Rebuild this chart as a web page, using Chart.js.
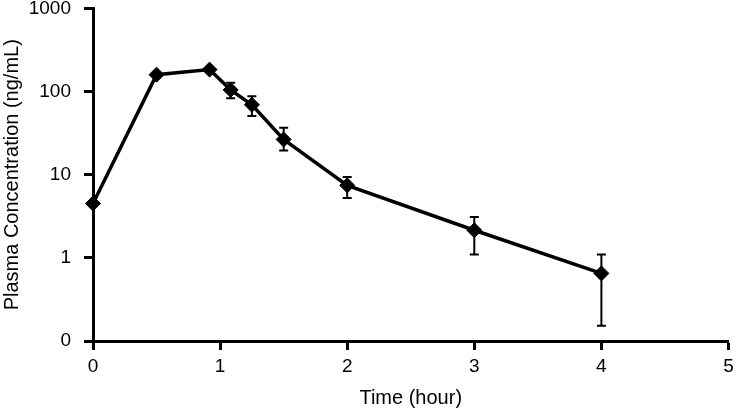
<!DOCTYPE html>
<html>
<head>
<meta charset="utf-8">
<script src="https://cdn.jsdelivr.net/npm/chart.js@4/dist/chart.umd.min.js"></script>
<style>
html,body{margin:0;padding:0;background:#fff;}
#wrap{width:737px;height:413px;}
</style>
</head>
<body>
<div id="wrap"><canvas id="c"></canvas></div>
<script>
const timesHour = [0, 0.5, 0.917, 1.083, 1.25, 1.5, 2, 3, 4];
const concMean = [4.5, 160, 184, 105, 69.5, 26.6, 7.46, 2.15, 0.65];
const concUpper = [4.5, 160, 184, 128, 88, 36.7, 9.4, 3.1, 1.1];
const concLower = [4.5, 160, 184, 83, 51, 19.6, 5.25, 1.1, 0.153];
const yTicks = [0.1, 1, 10, 100, 1000];
const yTickLabels = ['0', '1', '10', '100', '1000'];
const xTicks = [0, 1, 2, 3, 4, 5];

const errorBars = {
  id: 'errorBars',
  afterDatasetsDraw(chart) {
    const ctx = chart.ctx;
    const xs = chart.scales.x, ys = chart.scales.y;
    ctx.save();
    ctx.strokeStyle = '#000';
    ctx.lineWidth = 2;
    for (let i = 0; i < timesHour.length; i++) {
      if (concUpper[i] === concLower[i]) continue;
      const x = xs.getPixelForValue(timesHour[i]);
      const yt = ys.getPixelForValue(concUpper[i]);
      const yb = ys.getPixelForValue(concLower[i]);
      const w = 4.5;
      ctx.beginPath();
      ctx.moveTo(x, yt); ctx.lineTo(x, yb);
      ctx.moveTo(x - w, yt); ctx.lineTo(x + w, yt);
      ctx.moveTo(x - w, yb); ctx.lineTo(x + w, yb);
      ctx.stroke();
    }
    ctx.restore();
  }
};

Chart.defaults.font.family = '"Liberation Sans", Arial, sans-serif';
Chart.defaults.color = '#000';

new Chart(document.getElementById('c'), {
  type: 'line',
  data: {
    datasets: [{
      data: timesHour.map((t, i) => ({x: t, y: concMean[i]})),
      borderColor: '#000',
      backgroundColor: '#000',
      borderWidth: 3.5,
      pointStyle: 'rectRot',
      pointRadius: 7.5,
      pointBorderWidth: 1,
      pointBackgroundColor: '#000',
      pointBorderColor: '#000',
      tension: 0,
      clip: false
    }]
  },
  options: {
    responsive: true,
    maintainAspectRatio: false,
    animation: false,
    layout: {padding: {top: 8, right: 4, left: 0, bottom: 0}},
    plugins: {legend: {display: false}, tooltip: {enabled: false}},
    scales: {
      x: {
        type: 'linear', min: 0, max: 5,
        afterBuildTicks(s) { s.ticks = xTicks.map(v => ({value: v})); },
        afterFit(s) { s.height = 72; s.paddingLeft = 0; s.paddingRight = 0; },
        grid: {drawOnChartArea: false, drawTicks: true, tickLength: 9, tickWidth: 3, tickColor: '#000'},
        border: {color: '#000', width: 3},
        ticks: {font: {size: 19}, padding: 5, maxRotation: 0},
        title: {display: true, text: 'Time (hour)', font: {size: 20}, padding: {top: 0, bottom: 3}}
      },
      y: {
        type: 'logarithmic', min: 0.1, max: 1000,
        afterBuildTicks(s) { s.ticks = yTicks.map(v => ({value: v})); },
        afterFit(s) { s.width = 93; s.paddingTop = 0; s.paddingBottom = 0; },
        grid: {drawOnChartArea: false, drawTicks: true, tickLength: 9, tickWidth: 3, tickColor: '#000'},
        border: {color: '#000', width: 3},
        ticks: {font: {size: 19}, padding: 13, callback: (v) => yTickLabels[yTicks.indexOf(v)] ?? ''},
        title: {display: true, text: 'Plasma Concentration (ng/mL)', font: {size: 20}, padding: {top: 0, bottom: 0}}
      }
    }
  },
  plugins: [errorBars]
});
</script>
</body>
</html>
